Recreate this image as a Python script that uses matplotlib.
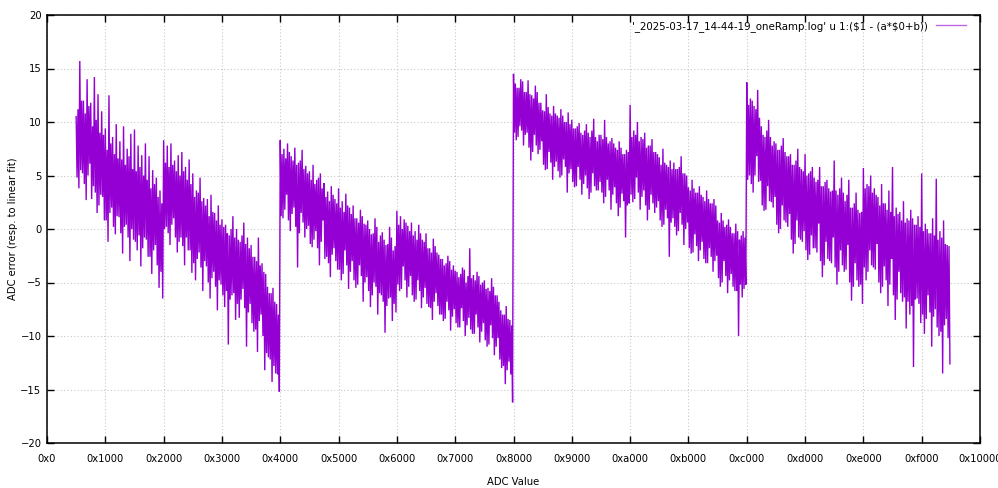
import numpy as np
import matplotlib
matplotlib.use("Agg")
from matplotlib import pyplot as plt

# ADC error readings per ramp segment: an upper reading every 0x80 codes and
# a lower reading 0x40 codes after each one (the noise swings up and down)
step = 0x80

seg1_start = 0x800
seg1_upper = [10.5, 11.2, 15.7, 12.0, 12.0, 10.8, 14.0, 11.5,
              11.8, 9.6, 14.2, 10.2, 12.6, 9.0, 11.0, 8.8,
              9.4, 7.4, 12.5, 8.0, 8.6, 7.0, 9.8, 6.6,
              8.2, 6.5, 9.6, 6.0, 7.5, 6.8, 8.9, 5.6,
              9.3, 5.4, 7.8, 5.8, 6.9, 5.0, 8.0, 4.6,
              6.8, 3.8, 5.5, 4.2, 4.8, 3.0, 3.6, 2.4,
              8.3, 6.2, 7.8, 5.8, 8.0, 6.0, 6.4, 5.4,
              6.9, 5.0, 7.2, 5.4, 5.8, 4.6, 6.5, 4.2,
              5.2, 3.0, 3.6, 3.4, 4.8, 2.6, 2.9, 2.2,
              2.8, 1.2, 3.2, 1.6, 1.5, 0.8, 2.2, 0.4,
              0.9, 0.2, 0.4, -0.4, -0.6, 0.0, 1.2, -0.8,
              0.0, -1.0, -1.2, -0.6, 0.6, -1.4, -0.8, -1.8,
              -1.5, -2.6, -2.6, -3.0, -0.8, -3.4, -3.2, -4.0,
              -4.2, -5.4, -6.0, -6.0, -5.5, -6.8, -7.0, -8.0]
seg1_lower = [4.8, 3.8, 5.5, 5.2, 4.2, 2.7, 5.0, 6.1,
              2.8, 4.0, 3.4, 1.5, 2.2, 3.2, 3.0, 0.8,
              0.8, -1.2, 1.5, 2.0, 0.2, -0.5, 1.2, 1.1,
              -0.4, -2.3, 0.2, 0.4, -0.8, -3.0, 0.0, -1.0,
              -1.2, -2.0, -0.6, -3.5, -1.8, -0.8, -1.0, -2.6,
              -2.6, -4.2, -2.0, -1.5, -3.4, -5.5, -4.0, -6.5,
              0.0, 0.2, -0.4, -1.5, 0.4, 1.0, -0.8, -2.2,
              -1.2, -0.8, -1.6, -3.4, -0.8, -2.0, -2.0, -4.1,
              -3.2, -4.8, -2.8, -2.2, -3.6, -5.8, -3.0, -3.5,
              -5.0, -6.5, -4.6, -4.0, -5.4, -7.6, -4.8, -5.2,
              -6.2, -7.3, -5.8, -10.8, -6.6, -6.2, -6.0, -8.5,
              -7.0, -8.3, -6.6, -5.6, -7.4, -11.0, -7.8, -7.0,
              -8.8, -9.6, -9.4, -11.5, -8.6, -8.0, -10.0, -13.2,
              -11.6, -12.0, -12.2, -14.3, -12.8, -13.5, -13.6, -15.2]

seg2_start = 0x4000
seg2_upper = [8.3, 7.0, 7.5, 6.6, 8.0, 7.2, 6.8, 6.4,
              7.6, 6.0, 6.2, 6.4, 7.4, 5.6, 5.9, 5.2,
              5.4, 4.6, 6.0, 4.2, 4.6, 4.8, 5.2, 3.8,
              4.3, 3.0, 3.5, 2.6, 4.0, 3.2, 2.8, 2.4,
              3.8, 2.0, 2.6, 1.6, 3.3, 2.2, 2.0, 1.4,
              2.2, 1.0, 1.0, 0.6, 1.8, 1.2, 0.5, 0.4,
              0.8, 0.0, -0.5, -0.4, 1.0, 0.2, -1.2, -0.6,
              -0.3, -1.0, -1.5, -1.4, 0.2, -0.8, -2.0, -1.6,
              1.7, 0.4, 1.2, 0.0, 0.9, 0.6, 0.3, -0.2,
              0.6, -0.6, -0.2, -1.0, 0.4, -0.4, -1.0, -1.2,
              -0.4, -1.8, -1.8, -2.2, -0.9, -1.6, -2.2, -2.4,
              -2.8, -2.8, -3.4, -3.2, -2.5, -3.0, -3.8, -3.4,
              -3.9, -4.0, -4.5, -4.2, -3.6, -3.8, -5.0, -4.4,
              -1.8, -4.6, -4.3, -4.8, -4.0, -4.4, -5.2, -5.0,
              -4.8, -5.6, -5.5, -5.8, -4.6, -5.4, -6.2, -6.2,
              -6.8, -7.6, -8.0, -8.0, -7.2, -8.4, -8.5, -9.0]
seg2_lower = [1.2, 1.0, 1.8, 3.2, 0.8, -0.2, 1.4, 2.0,
              0.2, -3.6, -0.4, 1.5, 0.6, -0.8, 0.0, 0.3,
              -1.4, -1.7, -1.0, -0.2, -1.8, -3.4, -1.2, 0.8,
              -2.8, -2.6, -3.2, -4.5, -2.4, -1.8, -3.0, -3.8,
              -3.8, -4.8, -4.2, -2.0, -3.4, -5.6, -4.0, -3.0,
              -4.8, -5.5, -5.2, -3.4, -4.4, -6.8, -5.0, -4.5,
              -5.8, -7.3, -6.2, -5.0, -5.4, -8.0, -6.0, -6.2,
              -6.8, -9.7, -7.2, -6.5, -6.4, -8.6, -7.0, -7.8,
              -5.2, -5.8, -5.6, -3.5, -4.8, -6.4, -5.4, -4.4,
              -6.2, -6.8, -6.6, -4.8, -5.8, -7.4, -6.4, -5.5,
              -7.0, -7.3, -7.4, -8.5, -6.8, -6.0, -7.2, -8.0,
              -8.0, -8.6, -8.4, -6.8, -7.6, -9.5, -8.2, -7.5,
              -8.8, -9.2, -9.2, -7.4, -8.6, -10.0, -9.0, -8.3,
              -9.4, -9.8, -9.8, -8.0, -9.2, -10.6, -9.6, -8.8,
              -10.4, -11.0, -10.8, -9.0, -10.2, -11.8, -11.0, -10.2,
              -12.2, -13.0, -12.8, -14.5, -13.2, -12.4, -13.6, -16.2]

seg3_start = 0x8000
seg3_upper = [14.5, 13.6, 13.2, 13.2, 14.0, 13.8, 12.8, 12.8,
              13.9, 12.6, 12.5, 12.2, 13.4, 12.8, 11.8, 11.8,
              11.1, 11.0, 12.6, 11.4, 10.8, 10.6, 11.5, 10.8,
              10.6, 10.4, 11.2, 10.6, 10.0, 10.0, 10.9, 9.8,
              10.2, 9.4, 9.4, 9.6, 9.9, 9.0, 8.8, 9.2,
              9.8, 9.0, 8.6, 9.2, 10.3, 8.6, 8.2, 8.8,
              8.8, 8.4, 10.2, 8.6, 8.0, 8.2, 8.5, 8.0,
              7.6, 7.4, 8.2, 7.6, 7.0, 7.0, 7.4, 7.2,
              11.6, 8.6, 9.2, 8.8, 10.0, 8.2, 8.6, 8.4,
              9.0, 7.6, 7.8, 7.8, 8.4, 7.2, 7.2, 7.0,
              6.7, 6.0, 7.5, 6.2, 6.0, 5.8, 6.4, 5.6,
              6.2, 5.6, 5.6, 5.8, 6.8, 5.2, 5.2, 5.0,
              3.9, 3.6, 4.6, 3.8, 3.4, 3.4, 4.0, 3.2,
              3.0, 2.6, 3.6, 2.8, 2.4, 2.4, 2.8, 2.2,
              0.8, 0.6, 1.5, 0.8, 0.2, 0.4, 0.9, 0.2,
              -0.4, -0.4, 0.5, -0.2, -1.0, -0.6, -0.2, -0.8]
seg3_lower = [9.0, 8.3, 8.6, 9.6, 9.2, 7.8, 8.8, 9.0,
              7.6, 6.4, 7.2, 8.8, 7.8, 7.0, 7.4, 8.2,
              6.0, 5.5, 5.6, 7.2, 6.2, 4.6, 5.8, 6.3,
              5.4, 4.8, 5.0, 6.5, 5.8, 3.4, 5.2, 5.6,
              4.4, 3.9, 4.0, 5.8, 4.6, 3.2, 4.2, 5.0,
              3.8, 2.8, 3.4, 5.2, 4.0, 3.6, 3.6, 4.4,
              3.4, 2.4, 3.0, 4.6, 3.6, 1.8, 3.2, 3.9,
              2.4, 1.2, 2.0, 3.3, 2.6, -0.8, 2.2, 2.4,
              3.2, 2.5, 2.8, 4.8, 3.4, 1.8, 3.0, 3.6,
              2.2, 0.8, 1.8, 3.2, 2.4, 1.5, 2.0, 2.6,
              0.8, 0.2, 0.4, 1.8, 1.0, -2.6, 0.6, 1.0,
              0.2, -0.6, -0.2, 1.5, 0.4, -1.5, 0.0, 0.6,
              -1.8, -2.3, -2.2, -0.5, -1.6, -3.0, -2.0, -1.2,
              -2.8, -3.2, -3.2, -1.8, -2.6, -4.0, -3.0, -2.5,
              -4.6, -5.4, -5.0, -3.0, -4.4, -6.0, -4.8, -4.2,
              -5.4, -5.8, -5.8, -10.0, -5.2, -6.4, -5.6, -5.2]

seg4_start = 0xC000
seg4_upper = [13.7, 11.6, 12.2, 12.0, 11.5, 11.2, 13.0, 10.4,
              9.6, 8.8, 8.6, 9.2, 10.2, 8.6, 7.8, 8.2,
              8.0, 7.4, 7.4, 7.8, 8.5, 7.2, 6.8, 6.8,
              7.0, 6.0, 6.0, 6.4, 7.5, 5.8, 5.6, 5.4,
              7.0, 5.0, 5.2, 5.4, 5.8, 4.8, 4.4, 4.6,
              5.8, 4.0, 4.0, 4.4, 4.6, 3.8, 3.5, 3.6,
              6.4, 3.6, 3.2, 3.8, 4.8, 3.4, 2.6, 3.2,
              4.6, 2.0, 2.0, 2.4, 3.4, 1.8, 1.5, 1.6,
              5.7, 3.8, 4.2, 4.0, 5.0, 3.4, 3.8, 3.2,
              3.0, 2.2, 4.2, 2.4, 2.4, 1.8, 3.6, 1.6,
              5.8, 1.2, 2.0, 1.4, 1.6, 0.8, 2.6, 0.6,
              1.0, 0.8, 1.8, 1.0, 0.4, 0.4, 1.2, 0.2,
              5.2, -0.2, 0.5, 0.0, -0.4, -0.4, 1.0, -0.6,
              4.7, -1.0, -0.2, -0.8, 0.8, -1.4, -1.5, -1.6]
seg4_lower = [4.6, 5.0, 4.2, 3.4, 5.0, 6.8, 4.4, 4.5,
              2.2, 1.7, 1.8, 4.0, 2.6, 2.5, 2.0, 3.0,
              0.4, -0.4, 0.0, 2.2, 0.8, 0.6, 0.2, 1.4,
              -1.0, -2.3, -1.4, 0.8, -0.8, -1.0, -1.2, -0.2,
              -2.0, -2.9, -2.4, -0.6, -1.8, -1.8, -2.2, 0.5,
              -3.0, -4.5, -3.4, -1.2, -2.8, -3.0, -3.2, -0.8,
              -3.6, -5.2, -4.0, -2.0, -3.4, -4.0, -3.8, -1.5,
              -5.0, -6.7, -5.4, -3.2, -4.8, -5.4, -5.2, -7.0,
              -3.6, -4.8, -4.0, -2.0, -3.4, -3.6, -3.8, -1.4,
              -5.0, -6.0, -5.4, -3.5, -4.8, -7.2, -5.2, -2.8,
              -6.2, -8.5, -6.6, -4.0, -6.0, -6.8, -6.4, -9.3,
              -6.8, -8.0, -7.2, -12.9, -6.6, -6.5, -7.0, -8.8,
              -8.0, -9.8, -8.4, -6.2, -7.8, -11.0, -8.2, -7.5,
              -9.2, -10.0, -9.6, -13.5, -9.0, -8.4, -10.2, -12.6]

xticks = list(range(0, 0x10001, 0x1000))
xlabels = ["0x%x" % t for t in xticks]
yticks = list(range(-20, 21, 5))
legend_text = r"'_2025-03-17_14-44-19_oneRamp.log' u 1:(\$1 - (a*\$0+b))"

segments = [(seg1_start, seg1_upper, seg1_lower),
            (seg2_start, seg2_upper, seg2_lower),
            (seg3_start, seg3_upper, seg3_lower),
            (seg4_start, seg4_upper, seg4_lower)]

xs, ys = [], []
for start, upper, lower in segments:
    for i, (a, b) in enumerate(zip(upper, lower)):
        xs += [start + step * i, start + step * i + step // 2]
        ys += [a, b]

plt.rcParams['font.family'] = ['DejaVu Sans']
fig = plt.figure(figsize=(9.98, 4.88), dpi=100)
ax = fig.add_axes([47 / 998, (488 - 443) / 488, (980 - 47) / 998, (443 - 15) / 488])

ax.plot(xs, ys, color='#9400D3', lw=1.0, solid_joinstyle='miter', label=legend_text)

ax.set_xlim(0, 0x10000)
ax.set_ylim(-20, 20)
ax.set_xticks(xticks)
ax.set_xticklabels(xlabels)
ax.set_yticks(yticks)
ax.tick_params(direction='in', length=5, width=1, top=True, right=True,
               labelsize=7.2, colors='black')
ax.tick_params(axis='x', pad=8)
ax.tick_params(axis='y', pad=4)
ax.grid(True, color='#c8c8c8', linestyle=(0, (1, 2)), linewidth=0.8)
for s in ax.spines.values():
    s.set_linewidth(1.1)

ax.set_xlabel("ADC Value", fontsize=7.2, labelpad=9)
ax.set_ylabel("ADC error (resp. to linear fit)", fontsize=7.2)
ax.yaxis.set_label_coords(-0.031, 0.5)

leg = ax.legend(loc='upper right', bbox_to_anchor=(0.994, 1.006), frameon=False,
                markerfirst=False, fontsize=7.4, handlelength=2.9, borderaxespad=0.4)
for h in leg.get_lines():
    h.set_linewidth(1.0)
    h.set_alpha(0.6)

fig.savefig("out.png", dpi=100)
